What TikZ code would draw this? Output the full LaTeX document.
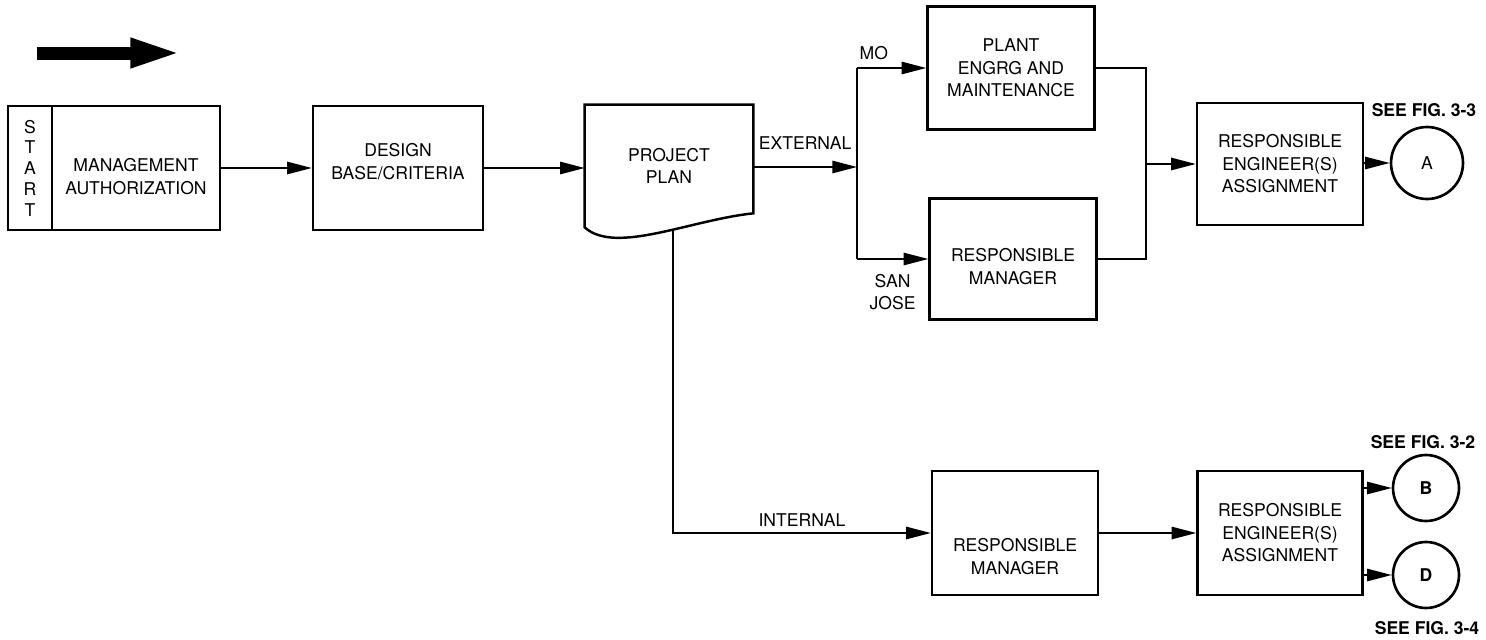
\documentclass[tikz,border=0pt]{standalone}
\usepackage{fontspec}
\setmainfont{TeX Gyre Heros}
\usetikzlibrary{positioning,arrows.meta,calc}

\tikzset{
  block/.style={draw, line width=1.4pt, align=center, inner sep=2pt},
  flow/.style={line width=1pt, -{Triangle[length=14pt,width=7pt]}},
  wire/.style={line width=1pt},
  joint/.style={circle, draw, line width=1.5pt, inner sep=0pt},
  tag/.style={inner sep=1pt},
  seefig/.style={inner sep=1pt, font=\fontsize{10}{12}\selectfont\bfseries},
}

\begin{document}
\begin{tikzpicture}[x=0.02cm, y=-0.02cm, font=\fontsize{10}{12.8}\selectfont]
\useasboundingbox (0,0) rectangle (1486,639);

% direction of flow
\coordinate (dirtail) at (37,53);
\coordinate (dirhead) at (183,53);
\draw[line width=7.4pt, -{Triangle[length=30pt,width=15pt]}] (dirtail) -- (dirhead);

% top row
\node[block, minimum width=0.88cm, minimum height=2.48cm, inner sep=0pt,
      font=\fontsize{10}{11.8}\selectfont] (start) at (30,168) {S\\T\\A\\R\\T};
\node[block, minimum width=3.36cm, minimum height=2.48cm,
      text height=30pt, text depth=0pt] (auth) at (136,168) {MANAGEMENT\\AUTHORIZATION};
\node[block, minimum width=3.4cm, minimum height=2.48cm,
      text height=20pt, text depth=7pt] (design) at (398,168) {DESIGN\\BASE/CRITERIA};
\node[minimum width=3.36cm, minimum height=2.44cm, align=center] (plan) at (669,166) {PROJECT\\PLAN};
\draw[line width=1.4pt] (plan.south west) -- (plan.north west) -- (plan.north east)
  -- ([yshift=0.28cm]plan.south east) .. controls (690,220) and (615,255) .. (plan.south west) -- cycle;
\coordinate (planfoot) at (673,230);

\node[block, minimum width=3.34cm, minimum height=2.46cm] (plant) at (1011,68) {PLANT\\ENGRG AND\\MAINTENANCE};
\node[block, minimum width=3.34cm, minimum height=2.42cm,
      text height=29pt, text depth=0pt] (mgrA) at (1013,259) {RESPONSIBLE\\MANAGER};
\node[block, minimum width=3.32cm, minimum height=2.44cm] (engA) at (1280,164) {RESPONSIBLE\\ENGINEER(S)\\ASSIGNMENT};
\node[joint, minimum size=1.44cm] (circA) at (1427,163) {A};
\node[seefig] (figA) at (1424,110) {SEE FIG. 3-3};

% bottom row
\node[block, minimum width=3.32cm, minimum height=2.48cm,
      text height=47pt, text depth=0pt] (mgrB) at (1015,533) {RESPONSIBLE\\MANAGER};
\node[block, minimum width=3.3cm, minimum height=2.48cm] (engB) at (1280,533) {RESPONSIBLE\\ENGINEER(S)\\ASSIGNMENT};
\node[joint, minimum size=1.32cm, font=\fontsize{10}{12}\selectfont\bfseries] (circB) at (1426,488) {B};
\node[joint, minimum size=1.32cm, font=\fontsize{10}{12}\selectfont\bfseries] (circD) at (1426,575) {D};
\node[seefig] (figB) at (1423,442) {SEE FIG. 3-2};
\node[seefig] (figD) at (1427,628) {SEE FIG. 3-4};

% connectors
\draw[flow] (auth.east) -- (design.west);
\draw[flow] (design.east) -- (design.east -| plan.west);
\coordinate (split) at (857,167);
\draw[flow] (plan.east |- split) -- (split) node[midway, above, tag, yshift=0.3cm] (ext) {EXTERNAL};
\draw[wire] (split |- plant.west) -- (split |- mgrA.west);
\draw[flow] (split |- plant.west) -- (plant.west) node[pos=0, above right, tag, yshift=3pt] (mo) {MO};
\draw[flow] (split |- mgrA.west) -- (mgrA.west)
  node[pos=0, below right, tag, align=center, xshift=0.2cm, yshift=-0.25cm] (sj) {SAN\\JOSE};
\coordinate (join) at (1146,164);
\draw[wire] (plant.east) -| (join) |- (mgrA.east);
\draw[flow] (join) -- (engA.west);
\draw[flow] (engA.east |- circA.west) -- (circA.west);

\draw[flow] (planfoot) |- (mgrB.west) node[pos=0.75, above, tag, yshift=2pt] (int) {INTERNAL};
\draw[flow] (mgrB.east) -- (engB.west);
\draw[flow] (engB.east |- circB.west) -- (circB.west);
\draw[flow] (engB.east |- circD.west) -- (circD.west);
\end{tikzpicture}
\end{document}
